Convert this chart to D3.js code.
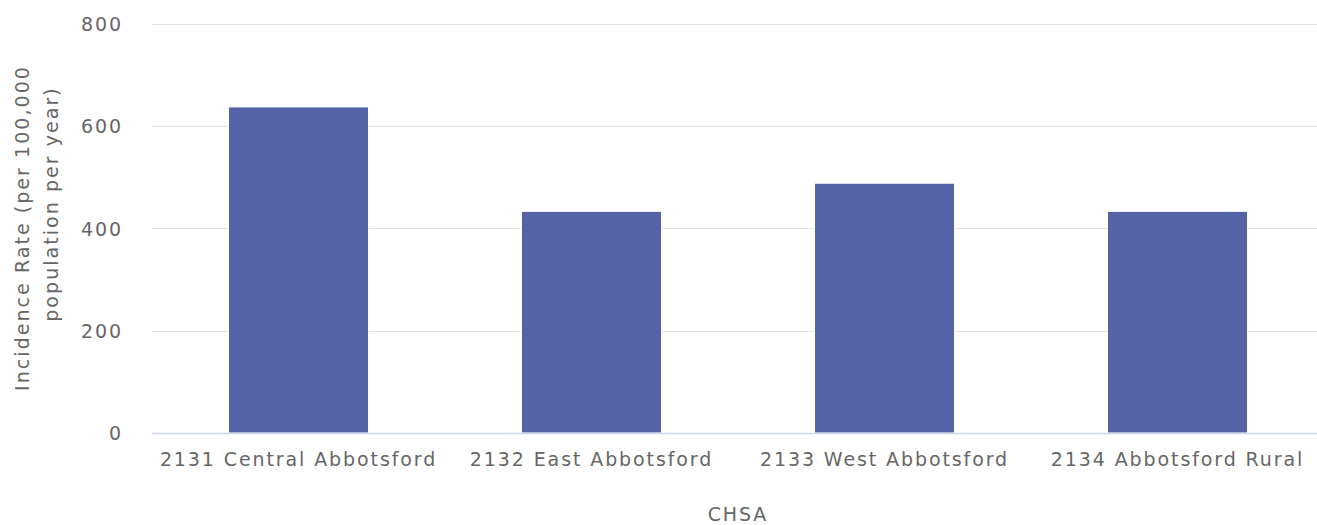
<!DOCTYPE html>
<html>
<head>
<meta charset="utf-8">
<script src="https://cdn.jsdelivr.net/npm/d3@7"></script>
<style>
	body { margin: 0; background: #fff; }
	text { font-family: "DejaVu Sans", Verdana, sans-serif; fill: #666; }
</style>
</head>
<body>
<svg id="chart" width="1317" height="525"></svg>
<script>
var categories = ["2131 Central Abbotsford", "2132 East Abbotsford", "2133 West Abbotsford", "2134 Abbotsford Rural"];
var rates = [637, 433, 488, 433];
var yTicks = [0, 200, 400, 600, 800];
var yTitle = ["Incidence Rate (per 100,000", "population per year)"];
var xTitle = "CHSA";

var svg = d3.select("#chart");
var plotLeft = 152, plotRight = 1324, plotTop = 23.5, plotBottom = 433;

var x = d3.scaleBand()
	.domain(categories)
	.range([plotLeft, plotRight])
	.paddingInner(0.522)
	.paddingOuter(0.261);

var y = d3.scaleLinear()
	.domain([0, 800])
	.range([plotBottom, plotTop]);

// grid lines
svg.append("g")
	.selectAll("line")
	.data(yTicks.filter(function(d) { return d > 0; }))
	.enter().append("line")
	.attr("x1", plotLeft).attr("x2", plotRight)
	.attr("y1", function(d) { return Math.round(y(d)) + 0.5; })
	.attr("y2", function(d) { return Math.round(y(d)) + 0.5; })
	.attr("stroke", "#e3e3e3")
	.attr("stroke-width", 1.2);

// y axis labels
var yAxis = d3.axisLeft(y).tickValues(yTicks).tickSize(0).tickPadding(0);
var gy = svg.append("g")
	.attr("transform", "translate(123,0)")
	.call(yAxis);
gy.select(".domain").remove();
gy.selectAll("text")
	.attr("font-size", 19)
	.attr("letter-spacing", "1.9px")
	.attr("fill", "#666")
	.attr("dy", "0.36em")
	.style("font-family", "DejaVu Sans");

// bars
svg.append("g")
	.selectAll("rect")
	.data(rates)
	.enter().append("rect")
	.attr("x", function(d, i) { return x(categories[i]); })
	.attr("width", x.bandwidth())
	.attr("y", function(d) { return y(d); })
	.attr("height", function(d) { return y(0) - y(d); })
	.attr("fill", "#5463a5")
	.attr("stroke", "#fff")
	.attr("stroke-width", 1);

// x axis line
svg.append("line")
	.attr("x1", plotLeft).attr("x2", plotRight)
	.attr("y1", plotBottom + 0.5).attr("y2", plotBottom + 0.5)
	.attr("stroke", "#ccd6eb")
	.attr("stroke-width", 1.5);

// x axis labels
var xAxis = d3.axisBottom(x).tickSize(0).tickPadding(0);
var gx = svg.append("g")
	.attr("transform", "translate(0,466)")
	.call(xAxis);
gx.select(".domain").remove();
gx.selectAll("text")
	.attr("font-size", 19)
	.attr("letter-spacing", "1.9px")
	.attr("fill", "#666")
	.attr("dy", 0)
	.attr("y", 0)
	.style("font-family", "DejaVu Sans");

// axis titles
svg.append("text")
	.attr("x", (plotLeft + plotRight) / 2)
	.attr("y", 521)
	.attr("text-anchor", "middle")
	.attr("font-size", 19)
	.attr("letter-spacing", "1.9px")
	.text(xTitle);

var titleY = [228, 204];
var titleX = [29, 57.5];
yTitle.forEach(function(line, i) {
	svg.append("text")
		.attr("transform", "translate(" + titleX[i] + "," + titleY[i] + ") rotate(-90)")
		.attr("text-anchor", "middle")
		.attr("font-size", 19)
		.attr("letter-spacing", "2.05px")
		.text(line);
});
</script>
</body>
</html>
